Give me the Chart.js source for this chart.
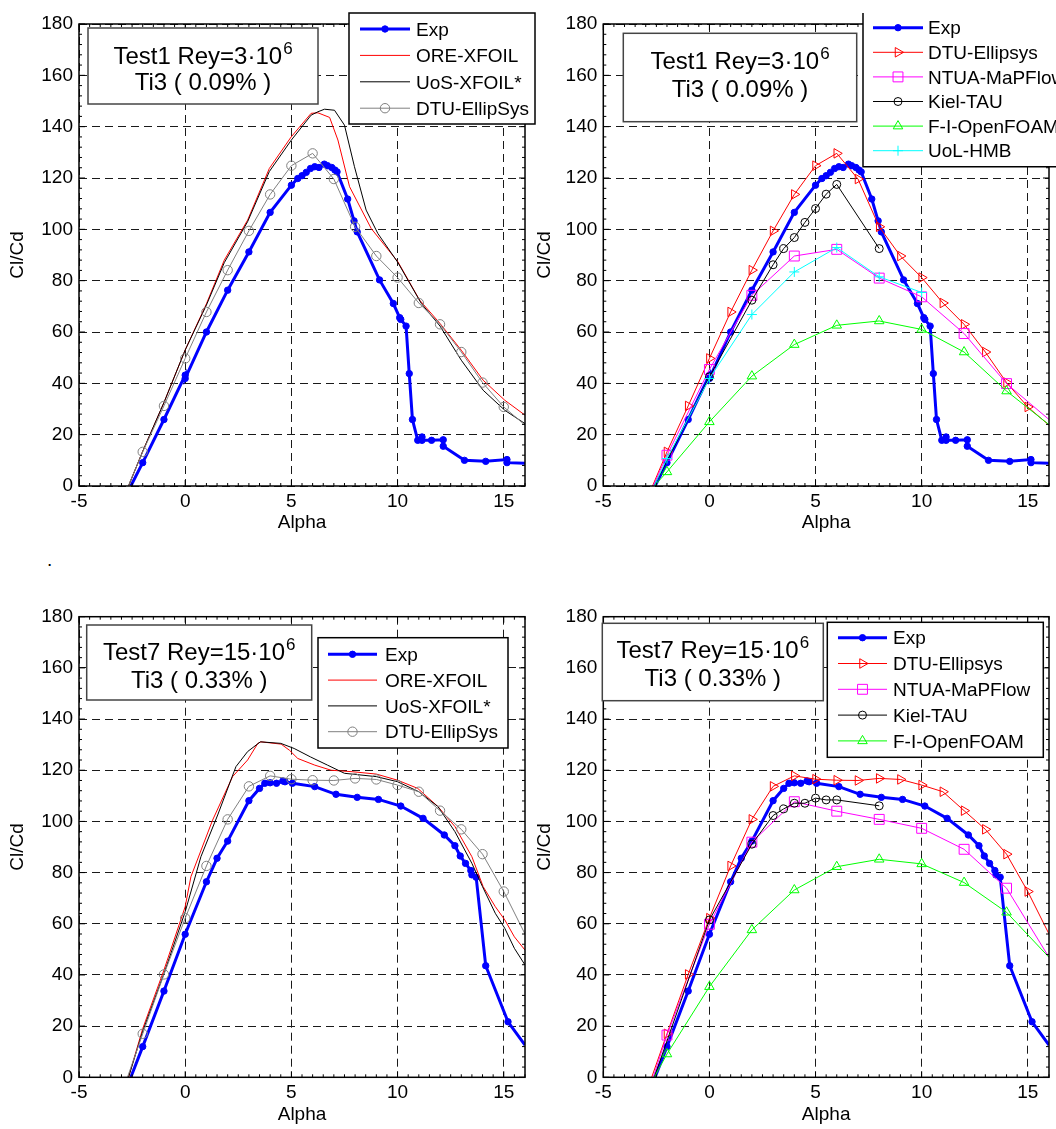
<!DOCTYPE html>
<html>
<head>
<meta charset="utf-8">
<script src="https://cdn.jsdelivr.net/npm/chart.js@4.4.0/dist/chart.umd.min.js"></script>
<style>
html,body{margin:0;padding:0;background:#fff;}
body{width:1056px;height:1129px;position:relative;overflow:hidden;font-family:"Liberation Sans",Arial,sans-serif;}
canvas{position:absolute;}
#dot{position:absolute;left:47px;top:549px;font-size:19px;line-height:22px;}
</style>
</head>
<body>
<canvas id="c1" width="540" height="540" style="left:0;top:0"></canvas>
<canvas id="c2" width="528" height="540" style="left:528px;top:0"></canvas>
<canvas id="c3" width="540" height="539" style="left:0;top:590px"></canvas>
<canvas id="c4" width="528" height="539" style="left:528px;top:590px"></canvas>
<div id="dot">.</div>
<script>
// =========================================
// TICKS
// =========================================
const xTicks = [-5, 0, 5, 10, 15];
const yTicks = [0, 20, 40, 60, 80, 100, 120, 140, 160, 180];

// =========================================
// TEST1  Re=3e6
// =========================================
const t1ExpAlpha = [-2.56, -2, -1, 0, 0, 1, 2, 3, 4, 5, 5.3, 5.5, 5.7, 5.9, 6.1, 6.3, 6.55, 6.7, 6.9, 7.05, 7.15, 7.65, 7.95, 8.1, 9.15, 9.8, 10.1, 10.15, 10.4, 10.55, 10.7, 10.95, 11.15, 11.15, 11.6, 12.15, 12.15, 13.15, 14.15, 15.15, 15.15, 16];
const t1ExpClCd  = [0, 9.1, 25.9, 43.2, 41.9, 60, 76.3, 91.2, 106.6, 117.2, 119.8, 120.9, 122.2, 123.7, 124.4, 124.1, 125.4, 124.8, 124.1, 123.1, 122.4, 111.8, 103.3, 99, 80.3, 71.1, 65.6, 64.9, 62.3, 43.8, 25.9, 17.8, 19.1, 17.8, 17.8, 18, 15.5, 10, 9.6, 10.3, 9.1, 8.9];

const t1OreAlpha = [-2.67, -2, -1, 0, 1, 1.84, 2.94, 3.96, 4.99, 5.93, 6.25, 6.8, 7.19, 7.74, 8.76, 10.02, 11.04, 12, 13, 14.03, 15.05, 16];
const t1OreClCd  = [0, 13.5, 32.5, 53, 71, 88, 103.6, 123.7, 136, 145.2, 145.4, 143.6, 134.8, 116.6, 100.3, 87.3, 72.4, 63.3, 52.9, 41.2, 33.4, 27.6];

const t1UosAlpha = [-2.67, -2, -1, 0, 1, 1.84, 2.94, 3.96, 5, 5.93, 6.25, 6.56, 7.03, 7.5, 7.97, 8.52, 9.07, 10.02, 11.12, 12, 13, 14.03, 15.05, 16];
const t1UosClCd  = [0, 13.5, 32.5, 53, 70.5, 87, 103, 122.5, 134.8, 144.5, 145.8, 146.8, 146.4, 140.6, 124.4, 107.5, 98.4, 87, 71.1, 62.3, 49, 37.3, 29.5, 24.3];

const t1DtuAlpha = [-2.68, -2, -1, 0, 1, 2, 3, 4, 5, 6, 7, 8, 9, 10, 11, 12, 13, 14, 15, 16];
const t1DtuClCd  = [0, 13.3, 31.2, 49.7, 67.8, 84.1, 99.4, 113.6, 124.8, 129.6, 119.6, 101, 89.6, 81.2, 71.3, 63, 52.2, 40.3, 30.8, 23.7];

const t1NtuaAlpha = [-2.65, -2, 0, 2, 4, 6, 8, 10, 12, 14, 16];
const t1NtuaClCd  = [0, 12, 45.4, 74.3, 89.6, 92.2, 81, 73.7, 59.4, 39.9, 25.9];

const t1KielAlpha = [-2.6, 0, 2, 3, 3.5, 4, 4.5, 5, 5.5, 6, 8];
const t1KielClCd  = [0, 42.5, 72.4, 86.2, 92.5, 96.8, 102.7, 108.1, 113.7, 117.5, 92.5];

const t1FoamAlpha = [-2.6, -2, 0, 2, 4, 6, 8, 10, 12, 14, 16];
const t1FoamClCd  = [0, 5.5, 25, 42.8, 55.1, 62.6, 64.3, 61, 52.2, 37, 23.9];

const t1HmbAlpha = [-2.6, -2, 0, 2, 4, 6, 8, 10];
const t1HmbClCd  = [0, 10.7, 41.9, 66.8, 83.4, 92.9, 81.5, 75.4];

// =========================================
// TEST7  Re=15e6
// =========================================
const t7ExpAlpha = [-2.56, -2, -1, 0, 1, 1.5, 2, 3, 3.5, 3.75, 4, 4.3, 4.6, 4.7, 5.05, 6.1, 7.1, 8.1, 9.1, 10.15, 11.2, 12.2, 12.7, 12.95, 13.2, 13.45, 13.5, 13.7, 14.15, 15.2, 16];
const t7ExpClCd  = [0, 12, 33.7, 55.9, 76.4, 85.6, 92.3, 108.1, 112.9, 114.9, 115.1, 114.9, 115.8, 115.5, 114.9, 113.6, 110.6, 109.4, 108.6, 106, 101.2, 94.7, 90.5, 86.5, 83.6, 80.8, 79.1, 78.2, 43.6, 21.7, 12.6];

const t7OreAlpha = [-2.67, -2, -1, 0, 0.27, 1.29, 2.23, 2.94, 3.42, 3.57, 4.52, 4.91, 5.3, 6.1, 6.87, 7.9, 9, 10, 10.95, 11.9, 12.7, 13.5, 14.03, 14.6, 15.05, 15.5, 16];
const t7OreClCd  = [0, 19, 41.9, 66.7, 78.4, 100.5, 117.5, 124, 130.5, 131.1, 130.2, 127.8, 124.6, 122, 120, 119.4, 118.5, 116.1, 112.9, 105.8, 98, 86.2, 74.5, 66.7, 61.5, 54.9, 49.7];

const t7UosAlpha = [-2.67, -2, -1, 0, 0.74, 1.53, 2.39, 2.94, 3.54, 4.5, 5.13, 5.9, 6.7, 7.5, 9, 10, 11, 11.9, 12.7, 13.5, 14, 14.6, 15.05, 15.5, 16];
const t7UosClCd  = [0, 18, 40.5, 64.7, 86.2, 102.5, 121.4, 127.3, 131.1, 130.5, 128.5, 125.2, 122, 118.8, 117.5, 115.5, 111.6, 105.8, 96, 83.6, 74.5, 64.1, 58.2, 50.4, 43.9];

const t7DtuAlpha = [-2.72, -2, -1, 0, 1, 2, 3, 4, 5, 6, 7, 8, 9, 10, 11, 12, 13, 14, 15, 16];
const t7DtuClCd  = [0, 17, 40.2, 62.2, 82.6, 100.8, 113.7, 117.8, 116.5, 116.1, 116, 116.8, 116.4, 114.2, 111.6, 104.2, 96.9, 87.2, 72.6, 56];

const t7NtuaAlpha = [-2.65, -2, 0, 2, 4, 6, 8, 10, 12, 14, 16];
const t7NtuaClCd  = [0, 16.5, 59.8, 91.9, 107.7, 104, 100.8, 97.3, 89.1, 73.9, 46.9];

const t7KielAlpha = [-2.6, 0, 2, 3, 3.5, 4, 4.5, 5, 5.5, 6, 8];
const t7KielClCd  = [0, 61.5, 91.1, 102.3, 104.9, 107.1, 107.1, 109.1, 108.4, 108.4, 106.1];

const t7FoamAlpha = [-2.6, -2, 0, 2, 4, 6, 8, 10, 12, 14, 16];
const t7FoamClCd  = [0, 9.1, 35.4, 57.6, 73.2, 82.3, 85.2, 83.4, 76.1, 64.5, 46.9];

// =========================================
// ESTILOS
// =========================================
const FONT = '"Liberation Sans", Arial, sans-serif';

const sty = {
  exp:  {label:'Exp',          color:'#0000ff', width:3, point:'circle',   r:3.2, solid:true},
  ore:  {label:'ORE-XFOIL',    color:'#ff0000', width:1, point:false},
  uos:  {label:'UoS-XFOIL*',   color:'#000000', width:1, point:false},
  dtuL: {label:'DTU-EllipSys', color:'#808080', width:1, point:'circle',   r:4.7},
  dtuR: {label:'DTU-Ellipsys', color:'#ff0000', width:1, point:'triangle', r:5.5, rot:90},
  ntua: {label:'NTUA-MaPFlow', color:'#ff00ff', width:1, point:'rect',     r:7},
  kiel: {label:'Kiel-TAU',     color:'#000000', width:1, point:'circle',   r:4},
  foam: {label:'F-I-OpenFOAM', color:'#00ff00', width:1, point:'triangle', r:5.5},
  hmb:  {label:'UoL-HMB',      color:'#00ffff', width:1, point:'cross',    r:5}
};

function pts(a, v){
  return a.map((x, i) => ({x: x, y: v[i]}));
}

function hideEnds(r){
  return c => (c.raw && (c.raw.y <= 0 || c.raw.x >= 16)) ? 0 : r;
}

function serie(st, a, v, order){
  return {
    label: st.label,
    data: pts(a, v),
    order: order,
    borderColor: st.color,
    backgroundColor: st.color,
    borderWidth: st.width,
    pointStyle: st.point || 'circle',
    pointRotation: st.rot || 0,
    pointRadius: st.point ? hideEnds(st.r) : 0,
    pointHoverRadius: 0,
    pointBorderColor: st.color,
    pointBorderWidth: 1,
    pointBackgroundColor: st.solid ? st.color : 'rgba(0,0,0,0)',
    tension: 0,
    fill: false
  };
}

// =========================================
// DIBUJO (marco, ticks, leyenda, titulo)
// =========================================
function line(ctx, x1, y1, x2, y2){
  ctx.beginPath(); ctx.moveTo(x1, y1); ctx.lineTo(x2, y2); ctx.stroke();
}

// marcador de la leyenda, hueco salvo el de Exp
function legendMark(ctx, st, x, y){
  const r = st.r;
  ctx.save();
  ctx.lineWidth = 1;
  ctx.beginPath();
  if (st.point === 'circle') {
    ctx.arc(x, y, r, 0, Math.PI * 2);
  } else if (st.point === 'rect') {
    const s = r * Math.SQRT1_2;
    ctx.rect(x - s, y - s, 2 * s, 2 * s);
  } else if (st.point === 'triangle') {
    let a = (st.rot || 0) * Math.PI / 180;
    ctx.moveTo(x + Math.sin(a) * r, y - Math.cos(a) * r);
    a += Math.PI * 2 / 3;
    ctx.lineTo(x + Math.sin(a) * r, y - Math.cos(a) * r);
    a += Math.PI * 2 / 3;
    ctx.lineTo(x + Math.sin(a) * r, y - Math.cos(a) * r);
    ctx.closePath();
  } else if (st.point === 'cross') {
    ctx.moveTo(x - r, y); ctx.lineTo(x + r, y);
    ctx.moveTo(x, y - r); ctx.lineTo(x, y + r);
  }
  if (st.solid === true) {
    ctx.fillStyle = st.color;
    ctx.fill();
  }
  ctx.strokeStyle = st.color;
  ctx.stroke();
  ctx.beginPath();
  ctx.restore();
}

const deco = {
  id: 'deco',
  afterDraw(chart, args, o){
    const ctx = chart.ctx;
    const a = chart.chartArea;
    const x = chart.scales.x, y = chart.scales.y;
    ctx.save();

    // ticks menores y mayores
    ctx.strokeStyle = '#000';
    ctx.lineWidth = 1;
    for (let v = 0; v <= 180; v += 4) {
      const py = y.getPixelForValue(v);
      const L = v % 20 === 0 ? 6 : 3;
      line(ctx, a.left, py, a.left + L, py);
      line(ctx, a.right, py, a.right - L, py);
    }
    for (let k = -10; k <= 32; k++) {
      const v = k / 2;
      const px = x.getPixelForValue(v);
      const L = Math.abs(v % 5) < 1e-9 ? 6 : 3;
      line(ctx, px, a.bottom, px, a.bottom - L);
      line(ctx, px, a.top, px, a.top + L);
    }

    // marco
    ctx.lineWidth = 1.5;
    ctx.strokeRect(a.left, a.top, a.right - a.left, a.bottom - a.top);

    // titulos de ejes
    ctx.fillStyle = '#000';
    ctx.font = '19px ' + FONT;
    ctx.textAlign = 'center';
    ctx.textBaseline = 'middle';
    ctx.fillText('Alpha', (a.left + a.right) / 2, a.bottom + 37);
    ctx.save();
    ctx.translate(o.ylabX, (a.top + a.bottom) / 2);
    ctx.rotate(-Math.PI / 2);
    ctx.fillText('Cl/Cd', 0, 0);
    ctx.restore();

    // caja de titulo
    const t = o.title;
    ctx.fillStyle = '#fff';
    ctx.fillRect(t.x1, t.y1, t.x2 - t.x1, t.y2 - t.y1);
    ctx.strokeStyle = '#444';
    ctx.lineWidth = 1.5;
    ctx.strokeRect(t.x1, t.y1, t.x2 - t.x1, t.y2 - t.y1);
    ctx.fillStyle = '#000';
    ctx.font = '24px ' + FONT;
    const w1 = ctx.measureText(t.l1).width;
    ctx.font = '17px ' + FONT;
    const ws = ctx.measureText(t.sup).width;
    const cx = (t.x1 + t.x2) / 2;
    const sx = cx - (w1 + ws + 1) / 2;
    ctx.textAlign = 'left';
    ctx.font = '24px ' + FONT;
    ctx.fillText(t.l1, sx, t.ty1);
    ctx.font = '17px ' + FONT;
    ctx.fillText(t.sup, sx + w1 + 1, t.ty1 - 8);
    ctx.font = '24px ' + FONT;
    ctx.textAlign = 'center';
    ctx.fillText(t.l2, cx, t.ty2);

    // leyenda (las claves se buscan en sty, fuera del resolver de opciones)
    const L = o.legend;
    ctx.fillStyle = '#fff';
    ctx.fillRect(L.x1, L.y1, L.x2 - L.x1, L.y2 - L.y1);
    ctx.strokeStyle = '#000';
    ctx.lineWidth = 1.5;
    if (L.open) {
      ctx.beginPath();
      ctx.moveTo(L.x1, L.y1); ctx.lineTo(L.x1, L.y2); ctx.lineTo(L.x2, L.y2);
      ctx.stroke();
    } else {
      ctx.strokeRect(L.x1, L.y1, L.x2 - L.x1, L.y2 - L.y1);
    }
    const keys = String(L.keys).split(',');
    keys.forEach((k, i) => {
      const st = sty[k];
      const yy = L.row0 + i * L.step;
      ctx.strokeStyle = st.color;
      ctx.lineWidth = st.width;
      line(ctx, L.lx1, yy, L.lx2, yy);
      if (st.point) legendMark(ctx, st, (L.lx1 + L.lx2) / 2, yy);
      ctx.fillStyle = '#000';
      ctx.font = '19px ' + FONT;
      ctx.textAlign = 'left';
      ctx.textBaseline = 'middle';
      ctx.fillText(st.label, L.tx, yy + 1.5);
    });

    ctx.restore();
  }
};

// =========================================
// GRAFICO
// =========================================
function grafico(id, area, series, deco_opts){

  const cv = document.getElementById(id);
  const W = cv.width, H = cv.height;

  const n = series.length;
  const datasets = series.map((s, i) => serie(sty[s[0]], s[1], s[2], n - i));
  deco_opts.legend.keys = series.map(s => s[0]).join(',');

  const gridOpts = {color: '#1a1a1a', lineWidth: 1, drawTicks: false};
  const tickFont = {family: FONT, size: 19};

  return new Chart(cv, {

    type: 'line',

    data: {datasets: datasets},

    options: {
      responsive: false,
      animation: false,
      events: [],
      layout: {padding: {top: area.top, right: W - area.right, left: 0, bottom: 0}},
      plugins: {
        legend: {display: false},
        tooltip: {enabled: false},
        deco: deco_opts
      },
      scales: {
        x: {
          type: 'linear', min: -5, max: 16,
          afterBuildTicks: s => { s.ticks = xTicks.map(v => ({value: v})); },
          afterFit: s => { s.height = H - area.bottom; },
          ticks: {font: tickFont, color: '#000', padding: 4, maxRotation: 0, autoSkip: false},
          grid: gridOpts,
          border: {display: false, dash: [8, 5]}
        },
        y: {
          type: 'linear', min: 0, max: 180,
          afterBuildTicks: s => { s.ticks = yTicks.map(v => ({value: v})); },
          afterFit: s => { s.width = area.left; },
          ticks: {font: tickFont, color: '#000', padding: 6, autoSkip: false},
          grid: gridOpts,
          border: {display: false, dash: [8, 5]}
        }
      }
    },

    plugins: [deco]

  });
}

// =========================================
// ARRIBA IZQUIERDA
// =========================================
grafico('c1', {left: 79, right: 525, top: 24, bottom: 486}, [
  ['exp',  t1ExpAlpha, t1ExpClCd],
  ['ore',  t1OreAlpha, t1OreClCd],
  ['uos',  t1UosAlpha, t1UosClCd],
  ['dtuL', t1DtuAlpha, t1DtuClCd]
], {
  ylabX: 18,
  title: {x1: 88, y1: 28, x2: 318, y2: 104, l1: 'Test1 Rey=3·10', sup: '6', l2: 'Ti3 ( 0.09% )', ty1: 57, ty2: 83},
  legend: {x1: 349, y1: 13, x2: 535, y2: 124, row0: 29, step: 26.4, lx1: 360, lx2: 410, tx: 416}
});

// =========================================
// ARRIBA DERECHA
// =========================================
grafico('c2', {left: 75.3, right: 521, top: 24, bottom: 486}, [
  ['exp',  t1ExpAlpha,  t1ExpClCd],
  ['dtuR', t1DtuAlpha,  t1DtuClCd],
  ['ntua', t1NtuaAlpha, t1NtuaClCd],
  ['kiel', t1KielAlpha, t1KielClCd],
  ['foam', t1FoamAlpha, t1FoamClCd],
  ['hmb',  t1HmbAlpha,  t1HmbClCd]
], {
  ylabX: 17,
  title: {x1: 95.3, y1: 33.3, x2: 328.7, y2: 121.7, l1: 'Test1 Rey=3·10', sup: '6', l2: 'Ti3 ( 0.09% )', ty1: 62, ty2: 90},
  legend: {x1: 335, y1: 13, x2: 560, y2: 166.7, open: true, row0: 27.7, step: 24.6, lx1: 345, lx2: 395, tx: 400}
});

// =========================================
// ABAJO IZQUIERDA
// =========================================
grafico('c3', {left: 79, right: 525, top: 26.7, bottom: 487.3}, [
  ['exp',  t7ExpAlpha, t7ExpClCd],
  ['ore',  t7OreAlpha, t7OreClCd],
  ['uos',  t7UosAlpha, t7UosClCd],
  ['dtuL', t7DtuAlpha, t7DtuClCd]
], {
  ylabX: 18,
  title: {x1: 86.7, y1: 35, x2: 311.7, y2: 110, l1: 'Test7 Rey=15·10', sup: '6', l2: 'Ti3 ( 0.33% )', ty1: 63, ty2: 91},
  legend: {x1: 318, y1: 47.7, x2: 508, y2: 158, row0: 64.3, step: 25.8, lx1: 328, lx2: 377, tx: 385}
});

// =========================================
// ABAJO DERECHA
// =========================================
grafico('c4', {left: 75.3, right: 521, top: 26.7, bottom: 487.3}, [
  ['exp',  t7ExpAlpha,  t7ExpClCd],
  ['dtuR', t7DtuAlpha,  t7DtuClCd],
  ['ntua', t7NtuaAlpha, t7NtuaClCd],
  ['kiel', t7KielAlpha, t7KielClCd],
  ['foam', t7FoamAlpha, t7FoamClCd]
], {
  ylabX: 17,
  title: {x1: 74.3, y1: 33.3, x2: 295.3, y2: 110.7, l1: 'Test7 Rey=15·10', sup: '6', l2: 'Ti3 ( 0.33% )', ty1: 61, ty2: 89},
  legend: {x1: 299.3, y1: 32.3, x2: 515.3, y2: 167.3, row0: 47.7, step: 25.8, lx1: 310, lx2: 359, tx: 365}
});
</script>
</body>
</html>
